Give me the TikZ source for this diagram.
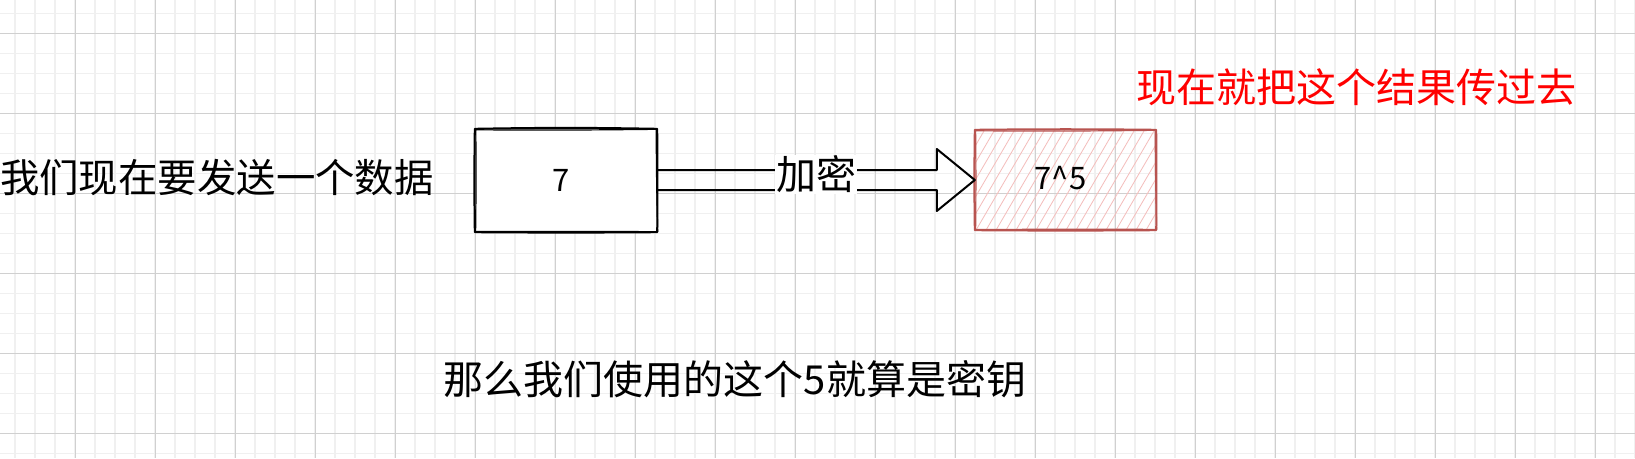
\documentclass[tikz,border=0pt]{standalone}
\usepackage{fontspec}
\setmainfont{Noto Sans CJK SC}
\usetikzlibrary{calc}
\definecolor{gridminor}{HTML}{F0F0F0}
\definecolor{gridmajor}{HTML}{D0D0D0}
\definecolor{hatchpink}{HTML}{F4BDBB}
\definecolor{boxred}{HTML}{B85450}
\definecolor{textred}{HTML}{FF0000}
\begin{document}
\begin{tikzpicture}[x=1pt,y=-1pt,
  bigtext/.style={font=\fontsize{40}{48}\selectfont, inner sep=0pt},
  digit/.style={font=\fontsize{31}{36}\selectfont},
  boxnode/.style={minimum width=182pt, minimum height=103pt, inner sep=0pt},
  sketch/.style={line width=2pt, line join=round, line cap=round},
  sketchthin/.style={line width=1.2pt, line join=round, line cap=round},
  arrowline/.style={line width=2pt, line join=round, line cap=round}]
\useasboundingbox (0,0) rectangle (1635,458);
\fill[white] (0,0) rectangle (1635,458);
% grid
\foreach \x in {15,35,...,1635} \draw[gridminor, line width=1.2pt] (\x,0) -- (\x,458);
\foreach \y in {13.3,33.3,...,458} \draw[gridminor, line width=1.2pt] (0,\y) -- (1635,\y);
\foreach \x in {75,155,...,1635} \draw[gridmajor, line width=0.8pt] (\x,0) -- (\x,458);
\foreach \y in {33.3,113.3,...,458} \draw[gridmajor, line width=0.8pt] (0,\y) -- (1635,\y);

% box 1
\node[boxnode, fill=white] (box1) at (566,180.5) {};
\node[digit] (t7) at ($(box1.center)+(-5,0)$) {7};
\draw[sketch] (box1.north west) to[bend left=1] (box1.north east) to[bend left=0.5] (box1.south east) to[bend left=0.4] (box1.south west) to[bend left=0.8] (box1.north west);
\draw[sketchthin] ($(box1.north west)+(1,1)$) to[bend right=0.5] ($(box1.north east)+(-1,0.5)$) to[bend right=0.6] ($(box1.south east)+(0.5,-0.5)$) to[bend right=0.3] ($(box1.south west)+(0.8,-0.6)$) to[bend right=0.6] ($(box1.north west)+(1,1)$);

% box 2
\node[boxnode, minimum width=181pt, minimum height=100pt] (box2) at (1065.5,180) {};
\begin{scope}
\clip (box2.north west) rectangle (box2.south east);
\foreach \k in {-8,...,20} \draw[hatchpink, line width=0.8pt] ($(box2.south west)+(\k*10,2)$) -- ++(62,-106);
\end{scope}
\draw[sketch, boxred] (box2.north west) to[bend left=0.6] (box2.north east) to[bend left=0.5] (box2.south east) to[bend left=0.4] (box2.south west) to[bend left=0.8] (box2.north west);
\draw[sketchthin, boxred] ($(box2.north west)+(0.8,1)$) to[bend right=0.5] ($(box2.north east)+(-1,0.5)$) to[bend right=0.6] ($(box2.south east)+(0.5,-0.8)$) to[bend right=0.3] ($(box2.south west)+(0.8,-0.6)$) to[bend right=0.6] ($(box2.north west)+(0.8,1)$);
\node[digit] (t75) at ($(box2.center)+(-5,-2)$) {7\textasciicircum5};

% arrow
\draw[arrowline] ($(box1.east)+(0,-10.5)$) -- ($(box2.west)+(-38,-10)$) -- ($(box2.west)+(-38,-31)$) -- (box2.west) -- ($(box2.west)+(-38,31)$) -- ($(box2.west)+(-38,10)$) -- ($(box1.east)+(0,9.5)$);
\node[bigtext, fill=white, inner sep=1pt] (lbl) at ($(box1.east)!0.5!(box2.west)+(0,-6)$) {加密};

% texts
\node[bigtext, font=\fontsize{39.4}{47}\selectfont, anchor=west] (left) at (0,178) {我们现在要发送一个数据};
\node[bigtext, text=textred] (red) at (1356,87) {现在就把这个结果传过去};
\node[bigtext] (bottom) at (735,379) {那么我们使用的这个5就算是密钥};
\end{tikzpicture}
\end{document}
